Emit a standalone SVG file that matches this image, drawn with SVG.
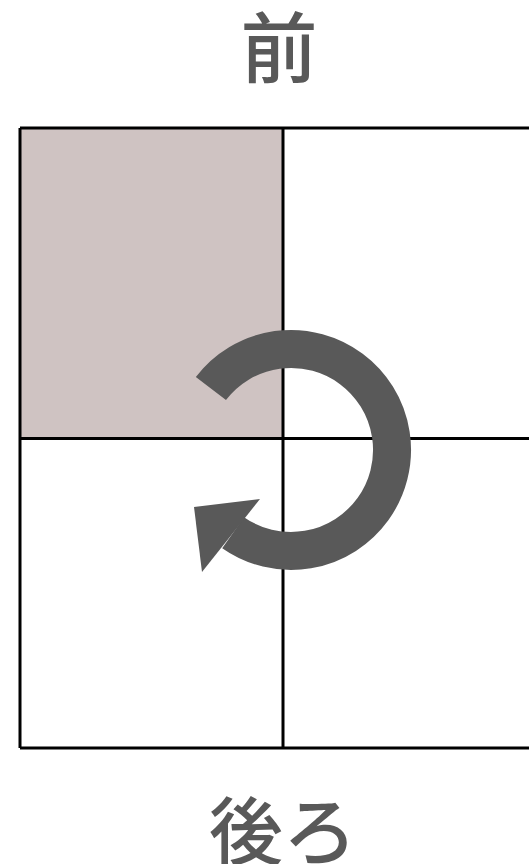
<svg xmlns="http://www.w3.org/2000/svg" width="529" height="864" viewBox="0 0 529 864">
<style>
.label{font-family:"Noto Sans CJK JP","Noto Sans CJK SC",sans-serif;fill:#595959;text-anchor:middle;font-weight:500}
.grid{stroke:#000;stroke-width:3;fill:none}
</style>
<rect width="529" height="864" fill="#fff"/>
<g id="grid">
<rect x="20" y="128" width="263" height="310" fill="#cfc3c2"/>
<path class="grid" d="M20 128H540M20 128V748M20 748H540M283 128V748M20 438.5H540"/>
</g>
<g id="rotation-arrow" fill="#595959">
<path d="M210.9 388.5A101 101 0 1 1 233.1 532.7" fill="none" stroke="#595959" stroke-width="38"/>
<polygon points="194,507 260,499 202,572"/>
</g>
<g id="label-front"><text class="label" x="279" y="77" font-size="77">前</text></g>
<g id="label-back"><text class="label" x="283" y="859" font-size="74">後ろ</text></g>
</svg>
